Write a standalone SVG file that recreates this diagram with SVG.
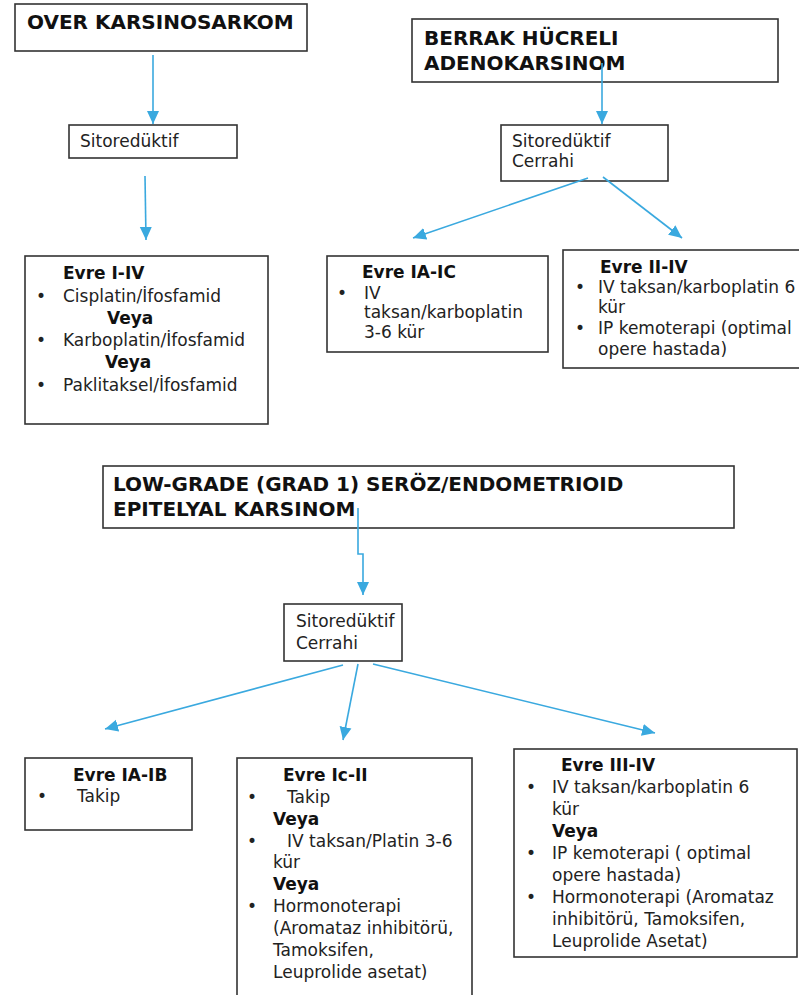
<svg xmlns="http://www.w3.org/2000/svg" width="799" height="995" viewBox="0 0 799 995">
<style>
.box{fill:#fff;stroke:#333;stroke-width:1.6}
.title{font-family:"DejaVu Sans",sans-serif;font-weight:bold;font-size:20px;fill:#111}
.t{font-family:"DejaVu Sans",sans-serif;font-size:17px;fill:#222}
.b{font-family:"DejaVu Sans",sans-serif;font-weight:bold;font-size:17px;fill:#111}
.conn{fill:none;stroke:#3aa9df;stroke-width:1.6}
</style>
<defs>
<marker id="ah" markerUnits="userSpaceOnUse" markerWidth="14" markerHeight="14" viewBox="0 0 14 14" refX="13" refY="7" orient="auto">
<path d="M0,1 L13,7 L0,13 Z" fill="#3aa9df"/>
</marker>
</defs>
<rect width="799" height="995" fill="#fff"/>

<g id="n-over">
<rect class="box" x="15" y="4" width="292" height="47"/>
<text class="title" x="27" y="29">OVER KARSINOSARKOM</text>
</g>
<g id="n-sito1">
<rect class="box" x="69" y="125" width="168" height="33"/>
<text class="t" x="80" y="147">Sitoredüktif</text>
</g>
<g id="n-evre1-4">
<rect class="box" x="25" y="256" width="243" height="168"/>
<text class="b" x="63" y="279">Evre I-IV</text>
<text class="t" x="36" y="302">•</text>
<text class="t" x="63" y="302">Cisplatin/İfosfamid</text>
<text class="b" x="107" y="324">Veya</text>
<text class="t" x="36" y="346">•</text>
<text class="t" x="63" y="346">Karboplatin/İfosfamid</text>
<text class="b" x="105" y="368">Veya</text>
<text class="t" x="36" y="391">•</text>
<text class="t" x="63" y="391">Paklitaksel/İfosfamid</text>
</g>

<g id="n-berrak">
<rect class="box" x="412" y="19" width="366" height="63"/>
<text class="title" x="424" y="45">BERRAK HÜCRELI</text>
<text class="title" x="424" y="70">ADENOKARSINOM</text>
</g>
<g id="n-sito2">
<rect class="box" x="501" y="125" width="167" height="56"/>
<text class="t" x="512" y="147">Sitoredüktif</text>
<text class="t" x="512" y="167">Cerrahi</text>
</g>
<g id="n-evre-ia-ic">
<rect class="box" x="327" y="256" width="221" height="96"/>
<text class="b" x="362" y="278">Evre IA-IC</text>
<text class="t" x="337" y="299">•</text>
<text class="t" x="364" y="299">IV</text>
<text class="t" x="364" y="318">taksan/karboplatin</text>
<text class="t" x="364" y="338">3-6 kür</text>
</g>
<g id="n-evre-ii-iv">
<rect class="box" x="563" y="250" width="250" height="118"/>
<text class="b" x="600" y="273">Evre II-IV</text>
<text class="t" x="575" y="293">•</text>
<text class="t" x="598" y="293">IV taksan/karboplatin 6</text>
<text class="t" x="598" y="313">kür</text>
<text class="t" x="575" y="334">•</text>
<text class="t" x="598" y="334">IP kemoterapi (optimal</text>
<text class="t" x="598" y="355">opere hastada)</text>
</g>

<g id="n-lowgrade">
<rect class="box" x="103" y="466" width="631" height="62"/>
<text class="title" x="113" y="491">LOW-GRADE (GRAD 1) SERÖZ/ENDOMETRIOID</text>
<text class="title" x="113" y="516">EPITELYAL KARSINOM</text>
</g>
<g id="n-sito3">
<rect class="box" x="284" y="604" width="118" height="57"/>
<text class="t" x="296" y="627">Sitoredüktif</text>
<text class="t" x="296" y="649">Cerrahi</text>
</g>
<g id="n-evre-ia-ib">
<rect class="box" x="25" y="758" width="167" height="72"/>
<text class="b" x="73" y="781">Evre IA-IB</text>
<text class="t" x="37" y="802">•</text>
<text class="t" x="77" y="802">Takip</text>
</g>
<g id="n-evre-ic-ii">
<rect class="box" x="237" y="758" width="235" height="250"/>
<text class="b" x="283" y="781">Evre Ic-II</text>
<text class="t" x="247" y="803">•</text>
<text class="t" x="287" y="803">Takip</text>
<text class="b" x="273" y="825">Veya</text>
<text class="t" x="247" y="847">•</text>
<text class="t" x="287" y="847">IV taksan/Platin 3-6</text>
<text class="t" x="273" y="868">kür</text>
<text class="b" x="273" y="890">Veya</text>
<text class="t" x="247" y="912">•</text>
<text class="t" x="273" y="912">Hormonoterapi</text>
<text class="t" x="273" y="934">(Aromataz inhibitörü,</text>
<text class="t" x="273" y="956">Tamoksifen,</text>
<text class="t" x="273" y="978">Leuprolide asetat)</text>
</g>
<g id="n-evre-iii-iv">
<rect class="box" x="514" y="749" width="283" height="208"/>
<text class="b" x="561" y="771">Evre III-IV</text>
<text class="t" x="526" y="793">•</text>
<text class="t" x="552" y="793">IV taksan/karboplatin 6</text>
<text class="t" x="552" y="815">kür</text>
<text class="b" x="552" y="837">Veya</text>
<text class="t" x="526" y="859">•</text>
<text class="t" x="552" y="859">IP kemoterapi ( optimal</text>
<text class="t" x="552" y="881">opere hastada)</text>
<text class="t" x="526" y="903">•</text>
<text class="t" x="552" y="903">Hormonoterapi (Aromataz</text>
<text class="t" x="552" y="925">inhibitörü, Tamoksifen,</text>
<text class="t" x="552" y="947">Leuprolide Asetat)</text>
</g>

<g id="connectors">
<path class="conn" d="M153,55 V124" marker-end="url(#ah)"/>
<path class="conn" d="M145,176 L146,240" marker-end="url(#ah)"/>
<path class="conn" d="M602,63 V124" marker-end="url(#ah)"/>
<path class="conn" d="M588,178 L413,238" marker-end="url(#ah)"/>
<path class="conn" d="M603,177 L682,238" marker-end="url(#ah)"/>
<path class="conn" d="M358,508 V554 H363 V595" marker-end="url(#ah)"/>
<path class="conn" d="M343,665 L105,729" marker-end="url(#ah)"/>
<path class="conn" d="M358,664 L343,740" marker-end="url(#ah)"/>
<path class="conn" d="M373,664 L655,733" marker-end="url(#ah)"/>
</g>
</svg>
